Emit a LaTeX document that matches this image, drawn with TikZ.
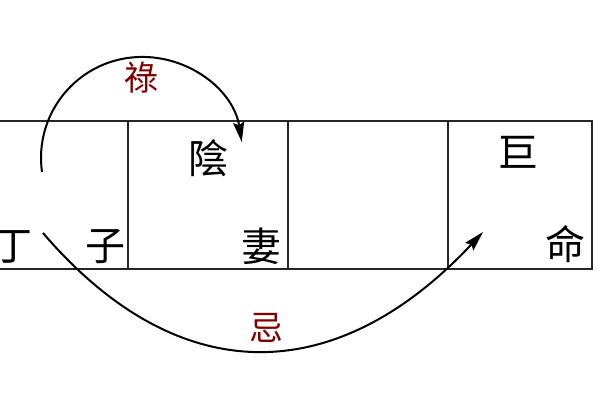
\documentclass[tikz,border=0pt]{standalone}
\usepackage{fontspec}
\newfontfamily\cjk{Noto Sans CJK TC}
\usetikzlibrary{arrows.meta}

\begin{document}
\begin{tikzpicture}[x=1pt,y=-1pt,
  cell/.style={draw=black!85,line width=2.2pt,minimum height=148pt,inner sep=0pt,anchor=north west},
  glyph/.style={font=\cjk\fontsize{40}{40}\selectfont,inner sep=0pt},
  hua/.style={font=\cjk\fontsize{34}{34}\selectfont,text=red!50!black,inner sep=0pt},
  flow/.style={line width=2pt,-{Stealth[length=20pt,width=11pt,inset=3pt]}}]
\useasboundingbox (0,0) rectangle (600,400);

% the row of palaces
\foreach \n/\x/\w in {0/-33/160,1/127/160,2/287/160,3/447/144}
  \node[cell,minimum width=\w pt] (c\n) at (\x,120) {};

\node[glyph] (ding) at (13,247) {丁};
\node[glyph] (zi)   at (105,247) {子};
\node[glyph] (yin)  at (208,158) {陰};
\node[glyph] (qi)   at (261,246) {妻};
\node[glyph] (ju)   at (518,152) {巨};
\node[glyph] (ming) at (565,244) {命};

% lu and ji
\coordinate (lu0) at (42,172);
\coordinate (ji0) at (43,233);
\coordinate (ji1) at (483,232);
\draw[flow] (lu0) arc[start angle=172,end angle=351,radius=101];
\draw[flow] (ji0) .. controls (182,395) and (340,385) .. (ji1);

\node[hua] (lu) at (141,78) {祿};
\node[hua] (ji) at (266,328) {忌};
\end{tikzpicture}
\end{document}
